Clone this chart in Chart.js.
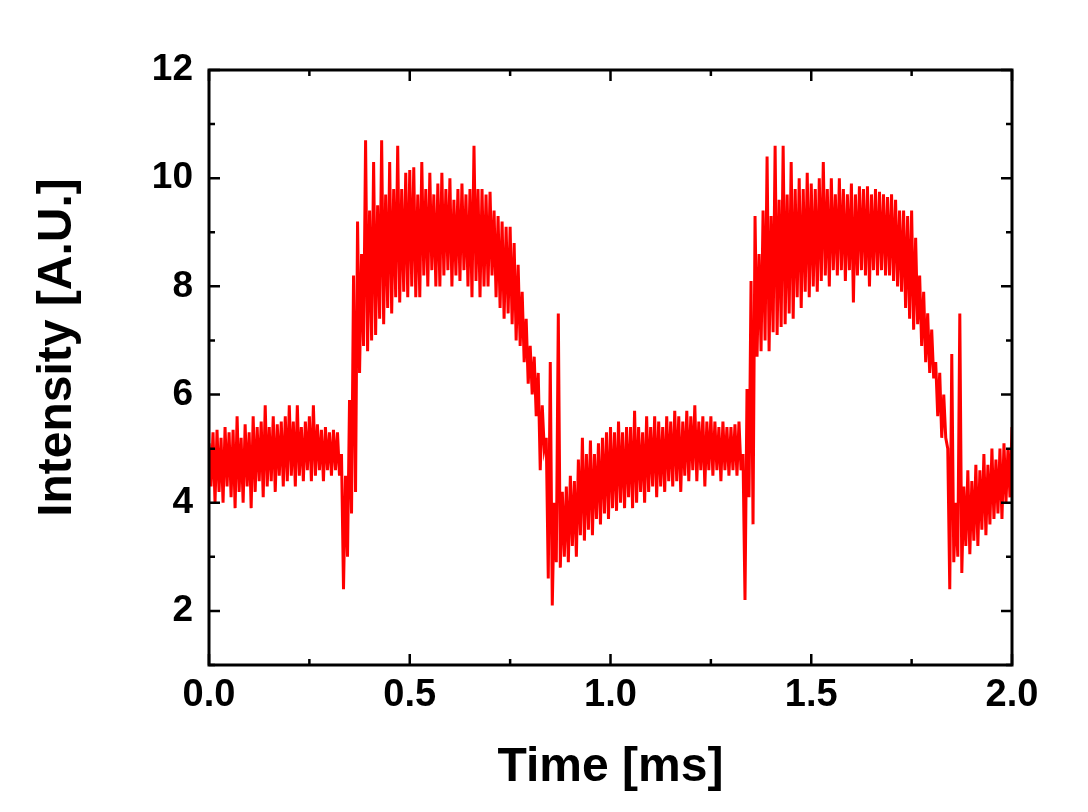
<!DOCTYPE html>
<html>
<head>
<meta charset="utf-8">
<title>Intensity vs Time</title>
<script src="https://cdn.jsdelivr.net/npm/chart.js@4.4.1/dist/chart.umd.min.js"></script>
<style>
  html, body { margin: 0; padding: 0; background: #fff; }
  #wrap { width: 1088px; height: 812px; }
</style>
</head>
<body>
<div id="wrap"><canvas id="signalChart" width="1088" height="812"></canvas></div>
<script>
// sampling grid of the envelope readings (ms)
const timeStep = 0.01;

// upper swing of the trace at each grid time
const upperValues = [
  5.1, 5.3, 5.35, 5.2, 5.4, 5.3, 5.35, 5.6, 5.2, 5.45,
  5.3, 5.6, 5.4, 5.5, 5.8, 5.4, 5.6, 5.45, 5.5, 5.6,
  5.8, 5.5, 5.8, 5.4, 5.5, 5.6, 5.8, 5.45, 5.35, 5.4,
  5.3, 5.35, 5.3,
  4.9, 4.5, 5.9, 8.2, 9.2, 8.6, 10.7, 9.4, 10.3, 9.5,
  10.7, 9.7, 10.3, 9.8, 10.6, 9.8, 10.1, 10.15,
  10.2, 9.7, 10.3, 9.8, 10.1, 9.7, 9.9, 10.1, 9.8, 10.0,
  9.6, 9.8, 9.9, 9.7, 9.8, 10.6, 9.8, 9.8, 9.7, 9.75,
  9.4, 9.3, 9.2, 9.1, 9.1, 8.8, 8.4, 7.9, 7.4, 6.9,
  6.7, 6.4, 5.8, 5.2, 6.6, 4.0, 7.5, 4.2,
  4.3, 4.5, 4.4, 4.8, 5.2, 4.9, 5.15, 4.9, 5.1, 5.2,
  5.3, 5.4, 5.3, 5.5, 5.3, 5.4, 5.4, 5.7, 5.4, 5.3,
  5.6, 5.4, 5.6, 5.5, 5.4, 5.6, 5.5, 5.7, 5.6, 5.5,
  5.7, 5.6, 5.8, 5.5, 5.6, 5.5, 5.6, 5.5, 5.4, 5.5,
  5.4, 5.4, 5.45, 5.5,
  4.9, 6.1, 8.1, 9.3, 8.6, 9.4, 10.4, 9.3, 10.6, 9.6,
  10.6, 9.7, 10.3, 9.8, 10.0, 9.8, 10.1, 9.9,
  9.8, 10.0, 10.3, 9.8, 10.0, 9.7, 10.0, 9.8, 9.7, 9.9,
  9.7, 9.85, 9.8, 9.85, 9.7, 9.8, 9.75, 9.7, 9.65, 9.7, 9.6,
  9.4, 9.4, 9.3, 9.4, 8.9, 8.2, 7.9, 7.5, 7.2, 6.6,
  6.4, 6.0, 5.0, 6.75, 4.0, 7.5, 4.3, 4.6, 4.4, 4.7,
  4.6, 4.9, 4.7, 5.0, 4.8, 5.0, 5.1, 5.0, 5.4
];

// lower swing of the trace, half a step after each grid time
const lowerValues = [
  4.3, 4.0, 4.2, 4.0, 4.3, 4.1, 3.9, 4.2, 4.0, 4.3,
  3.9, 4.2, 4.4, 4.1, 4.3, 4.4, 4.2, 4.5, 4.3, 4.4,
  4.5, 4.3, 4.5, 4.4, 4.6, 4.4, 4.5, 4.6, 4.4, 4.6,
  4.5, 4.6, 4.5,
  2.4, 3.0, 3.8, 4.2, 6.4, 6.9, 6.8, 7.0, 7.1, 7.4,
  7.3, 7.6, 7.5, 7.8, 7.7, 7.9, 7.8, 8.0,
  7.8, 7.8, 8.2, 8.0, 8.3, 8.0, 8.0, 8.2, 8.3, 8.0,
  8.2, 8.1, 8.3, 8.0, 7.8, 8.1, 7.8, 8.0, 8.0, 8.2,
  7.8, 7.6, 7.4, 7.5, 7.3, 7.0, 6.9, 6.6, 6.2, 6.0,
  5.6, 4.6, 5.0, 2.6, 2.1, 2.9, 2.8, 3.0,
  2.9, 3.2, 3.0, 3.4, 3.3, 3.5, 3.4, 3.7, 3.6, 3.8,
  3.7, 3.9, 3.85, 4.0, 3.9, 4.1, 3.9, 4.0, 4.2, 4.0,
  4.2, 4.3, 4.1, 4.3, 4.2, 4.4, 4.3, 4.4, 4.2, 4.5,
  4.4, 4.6, 4.4, 4.6, 4.3, 4.6, 4.5, 4.6, 4.4, 4.6,
  4.5, 4.6, 4.5, 4.6,
  2.2, 4.1, 3.6, 6.7, 6.8, 7.0, 6.8, 7.15, 7.1, 7.25,
  7.3, 7.5, 7.4, 7.8, 7.6, 7.9, 7.8, 8.0,
  7.9, 8.1, 8.2, 8.0, 8.3, 8.2, 8.3, 8.1, 8.3, 7.7,
  8.2, 8.3, 8.2, 8.0, 8.3, 8.2, 8.3, 8.2, 8.2, 8.1, 8.0,
  7.9, 7.6, 7.4, 7.2, 7.3, 6.9, 6.6, 6.4, 6.3, 5.6,
  5.2, 5.2, 2.4, 2.9, 3.0, 2.7, 3.2, 3.05, 3.3, 3.2,
  3.5, 3.4, 3.6, 3.7, 3.8, 3.7, 4.0, 4.1, 4.5
];

// axis ticks
const xTicks = [0, 0.5, 1.0, 1.5, 2.0];
const xMinorTicks = [0.25, 0.75, 1.25, 1.75];
const yTicks = [2, 4, 6, 8, 10, 12];
const yMinorTicks = [1, 3, 5, 7, 9, 11];

// build the trace: upper then lower swing for each grid step
let tracePoints = [];
for (let i = 0; i < upperValues.length; i++) {
  tracePoints.push({ x: i * timeStep, y: upperValues[i] });
  if (i < upperValues.length - 1) {
    tracePoints.push({ x: i * timeStep + timeStep / 2, y: lowerValues[i] });
  }
}

const fontFamily = "'Liberation Sans', Arial, sans-serif";

// box frame with inward ticks on all four sides
const frameTicks = {
  id: "frameTicks",
  afterDraw(chart) {
    const { ctx, chartArea: area, scales } = chart;
    const x = scales.x;
    const y = scales.y;
    ctx.save();
    ctx.strokeStyle = "#000";
    ctx.lineWidth = 2.5;
    ctx.beginPath();
    const drawX = (vals, len) => {
      vals.forEach((v) => {
        const px = x.getPixelForValue(v);
        ctx.moveTo(px, area.bottom);
        ctx.lineTo(px, area.bottom - len);
        ctx.moveTo(px, area.top);
        ctx.lineTo(px, area.top + len);
      });
    };
    const drawY = (vals, len) => {
      vals.forEach((v) => {
        const py = y.getPixelForValue(v);
        ctx.moveTo(area.left, py);
        ctx.lineTo(area.left + len, py);
        ctx.moveTo(area.right, py);
        ctx.lineTo(area.right - len, py);
      });
    };
    drawX(xTicks, 11);
    drawX(xMinorTicks, 6);
    drawY(yTicks, 11);
    drawY(yMinorTicks, 6);
    ctx.stroke();
    ctx.lineWidth = 3;
    ctx.strokeRect(area.left, area.top, area.right - area.left, area.bottom - area.top);
    ctx.restore();
  },
};

const ctx = document.getElementById("signalChart").getContext("2d");
const signalChart = new Chart(ctx, {
  type: "line",
  data: {
    datasets: [
      {
        label: "Intensity",
        data: tracePoints,
        borderColor: "#ff0000",
        borderWidth: 3,
        pointRadius: 0,
        tension: 0,
        fill: false,
      },
    ],
  },
  options: {
    responsive: false,
    animation: false,
    layout: {
      padding: { left: 0, top: 70, right: 76, bottom: 0 },
    },
    plugins: {
      legend: { display: false },
      tooltip: { enabled: false },
    },
    scales: {
      x: {
        type: "linear",
        min: 0,
        max: 2,
        afterBuildTicks: (scale) => {
          scale.ticks = xTicks.map((v) => ({ value: v }));
        },
        afterFit: (scale) => {
          scale.height = 147;
        },
        grid: { display: false, drawTicks: false },
        border: { display: false },
        ticks: {
          color: "#000",
          padding: 8,
          maxRotation: 0,
          font: { family: fontFamily, size: 38, weight: "bold" },
          callback: (v) => Number(v).toFixed(1),
        },
        title: {
          display: true,
          text: "Time [ms]",
          color: "#000",
          padding: { top: 0, bottom: 15 },
          font: { family: fontFamily, size: 48, weight: "bold" },
        },
      },
      y: {
        type: "linear",
        min: 1,
        max: 12,
        afterBuildTicks: (scale) => {
          scale.ticks = yTicks.map((v) => ({ value: v }));
        },
        afterFit: (scale) => {
          scale.width = 209;
        },
        grid: { display: false, drawTicks: false },
        border: { display: false },
        ticks: {
          color: "#000",
          padding: 16,
          font: { family: fontFamily, size: 37, weight: "bold" },
        },
        title: {
          display: true,
          // leading spaces lift the title a little above the axis centre, as in the source
          text: "   Intensity [A.U.]",
          color: "#000",
          padding: { top: 29, bottom: 0 },
          font: { family: fontFamily, size: 48, weight: "bold" },
        },
      },
    },
  },
  plugins: [frameTicks],
});
</script>
</body>
</html>
